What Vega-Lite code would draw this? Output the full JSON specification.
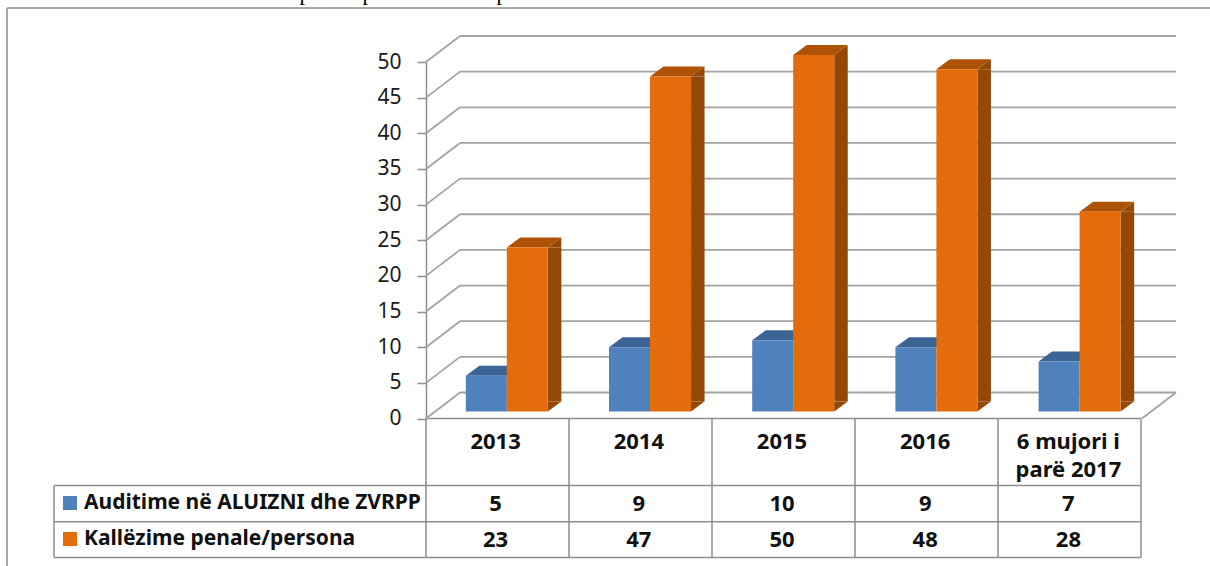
{
"$schema":"https://vega.github.io/schema/vega-lite/v6.json",
"width":1210,"height":566,"autosize":"none","padding":0,"background":"white",
"config":{"view":{"stroke":null},"font":"Noto Sans"},
"datasets":{
"bars":[
{"category":"2013","series":"Auditime në ALUIZNI dhe ZVRPP","value":5},
{"category":"2014","series":"Auditime në ALUIZNI dhe ZVRPP","value":9},
{"category":"2015","series":"Auditime në ALUIZNI dhe ZVRPP","value":10},
{"category":"2016","series":"Auditime në ALUIZNI dhe ZVRPP","value":9},
{"category":"6 mujori i parë 2017","series":"Auditime në ALUIZNI dhe ZVRPP","value":7},
{"category":"2013","series":"Kallëzime penale/persona","value":23},
{"category":"2014","series":"Kallëzime penale/persona","value":47},
{"category":"2015","series":"Kallëzime penale/persona","value":50},
{"category":"2016","series":"Kallëzime penale/persona","value":48},
{"category":"6 mujori i parë 2017","series":"Kallëzime penale/persona","value":28}
],
"ticks":[{"tick":0},{"tick":5},{"tick":10},{"tick":15},{"tick":20},{"tick":25},{"tick":30},{"tick":35},{"tick":40},{"tick":45},{"tick":50}],
"series":[{"series":"Auditime në ALUIZNI dhe ZVRPP"},{"series":"Kallëzime penale/persona"}],
"lines":[
{"c1":0,"c2":8,"r1":0,"r2":0},{"c1":0,"c2":0,"r1":0,"r2":5},
{"c1":2,"c2":7,"r1":1,"r2":1},{"c1":1,"c2":7,"r1":2,"r2":2},{"c1":1,"c2":7,"r1":3,"r2":3},{"c1":1,"c2":7,"r1":4,"r2":4},
{"c1":1,"c2":1,"r1":2,"r2":4},{"c1":2,"c2":2,"r1":1,"r2":4},{"c1":3,"c2":3,"r1":1,"r2":4},{"c1":4,"c2":4,"r1":1,"r2":4},{"c1":5,"c2":5,"r1":1,"r2":4},{"c1":6,"c2":6,"r1":1,"r2":4},{"c1":7,"c2":7,"r1":1,"r2":4}
],
"clipped":[{"glyph":"p","slot":1},{"glyph":"p","slot":2},{"glyph":"p","slot":3}]
},
"resolve":{"scale":{"x":"independent","y":"independent"}},
"layer":[
{"data":{"name":"lines"},
 "mark":{"type":"rule","color":"#8e8e8e","strokeWidth":1.5},
 "encoding":{
  "x":{"field":"c1","type":"quantitative","axis":null,"scale":{"domain":[0,1,2,3,4,5,6,7,8],"range":[7,54,426,569,712,855,998,1141,1210]}},
  "x2":{"field":"c2"},
  "y":{"field":"r1","type":"quantitative","axis":null,"scale":{"domain":[0,1,2,3,4,5],"range":[8,418.5,485.5,521.7,557.5,566]}},
  "y2":{"field":"r2"}
 }},
{"data":{"name":"clipped"},
 "mark":{"type":"text","font":"Liberation Serif","fontSize":22,"baseline":"alphabetic","color":"black"},
 "encoding":{
  "x":{"field":"slot","type":"quantitative","axis":null,"scale":{"domain":[1,2,3],"range":[305,368,502]}},
  "y":{"datum":"top","type":"nominal","axis":null,"scale":{"type":"point","domain":["top"],"range":[0,0],"padding":0}},
  "text":{"field":"glyph"}
 }},
{"data":{"name":"ticks"},
 "layer":[
  {"mark":{"type":"rule","color":"#a3a3a3","strokeWidth":1.8,"xOffset":34,"x2Offset":34,"yOffset":-26},
   "encoding":{"x":{"datum":0,"type":"quantitative","axis":null,"scale":{"domain":[0,1],"range":[426,1142]}},"x2":{"datum":1},
    "y":{"field":"tick","type":"quantitative","scale":{"domain":[0,50],"range":[418.5,62],"nice":false},
     "axis":{"offset":-426,"values":[0,5,10,15,20,25,30,35,40,45,50],"title":null,"grid":false,"tickSize":9,"tickColor":"#8e8e8e","tickWidth":1.5,"domainColor":"#8e8e8e","domainWidth":1.5,"labelFontSize":21,"labelColor":"#1a1a1a","labelPadding":16,"labelFont":"Noto Sans"}}}},
  {"mark":{"type":"rule","color":"#a3a3a3","strokeWidth":1.8,"x2Offset":34,"y2Offset":-26},
   "encoding":{"x":{"datum":0,"type":"quantitative"},"x2":{"datum":0},"y":{"field":"tick","type":"quantitative"},"y2":{"field":"tick"}}},
  {"transform":[{"filter":"datum.tick === 0"}],
   "mark":{"type":"rule","color":"#a3a3a3","strokeWidth":1.8,"x2Offset":34,"y2Offset":-26},
   "encoding":{"x":{"datum":1,"type":"quantitative"},"x2":{"datum":1},"y":{"field":"tick","type":"quantitative"},"y2":{"field":"tick"}}}
 ]},
{"data":{"name":"bars"},
 "encoding":{
  "x":{"field":"category","type":"nominal","sort":null,"scale":{"type":"band","domain":["2013","2014","2015","2016","6 mujori i parë 2017"],"range":[424,1140],"paddingInner":0,"paddingOuter":0},
   "axis":{"orient":"bottom","offset":-147.5,"title":null,"domain":false,"ticks":false,"grid":false,"labelAngle":0,"labelFontSize":22,"labelFontWeight":"bold","labelColor":"#111111","labelPadding":13,"labelLimit":0,"labelOverlap":false,"labelLineHeight":28,"labelBaseline":"top",
    "labelExpr":"datum.label === '6 mujori i parë 2017' ? ['6 mujori i','parë 2017'] : datum.label"}},
  "y":{"field":"value","type":"quantitative","axis":null,"scale":{"domain":[0,50],"range":[418.5,62],"nice":false}}
 },
 "layer":[
  {"transform":[{"filter":"datum.series === 'Auditime në ALUIZNI dhe ZVRPP'"}],
   "layer":[
    {"mark":{"type":"point","filled":true,"opacity":1,"strokeWidth":0,"size":400,"color":"#3c6595","xOffset":-9.3,"yOffset":-7,"shape":"M-2.05,0L2.05,0L3.4,-1L-0.7,-1Z"}},
    {"mark":{"type":"bar","color":"#4f81bd","width":41,"xOffset":-9.3,"yOffset":-7,"y2Offset":-7},"encoding":{"y2":{"datum":0}}}
   ]},
  {"transform":[{"filter":"datum.series === 'Kallëzime penale/persona'"}],
   "layer":[
    {"mark":{"type":"bar","color":"#944806","width":13.5,"xOffset":59,"yOffset":-7,"y2Offset":-17},"encoding":{"y2":{"datum":0}}},
    {"mark":{"type":"point","filled":true,"opacity":1,"strokeWidth":0,"size":400,"color":"#944806","xOffset":31.7,"yOffset":-7,"shape":"M2.05,0L3.4,0L3.4,-1Z"}},
    {"mark":{"type":"point","filled":true,"opacity":1,"strokeWidth":0,"size":400,"color":"#944806","xOffset":31.7,"yOffset":-7,"shape":"M2.05,-1L2.05,0L3.4,-1Z"},"encoding":{"y":{"datum":0,"type":"quantitative"}}},
    {"mark":{"type":"point","filled":true,"opacity":1,"strokeWidth":0,"size":400,"color":"#ae5305","xOffset":31.7,"yOffset":-7,"shape":"M-2.05,0L2.05,0L3.4,-1L-0.7,-1Z"}},
    {"mark":{"type":"bar","color":"#e46c0a","width":41,"xOffset":31.7,"yOffset":-7,"y2Offset":-7},"encoding":{"y2":{"datum":0}}}
   ]}
 ]},
{"data":{"name":"bars"},
 "mark":{"type":"text","fontSize":22,"fontWeight":"bold","color":"#111111","baseline":"middle"},
 "encoding":{
  "x":{"field":"category","type":"nominal","axis":null,"sort":null,"scale":{"type":"band","domain":["2013","2014","2015","2016","6 mujori i parë 2017"],"range":[424,1140],"paddingInner":0,"paddingOuter":0}},
  "y":{"field":"series","type":"nominal","axis":null,"scale":{"type":"point","domain":["Auditime në ALUIZNI dhe ZVRPP","Kallëzime penale/persona"],"range":[504,540],"padding":0}},
  "text":{"field":"value","type":"quantitative"}
 }},
{"data":{"name":"series"},
 "encoding":{
  "y":{"field":"series","type":"nominal","axis":null,"scale":{"type":"point","domain":["Auditime në ALUIZNI dhe ZVRPP","Kallëzime penale/persona"],"range":[503,539],"padding":0}}
 },
 "layer":[
  {"mark":{"type":"point","shape":"square","filled":true,"opacity":1,"strokeWidth":0,"size":196},
   "encoding":{
    "x":{"datum":"swatch","type":"nominal","axis":null,"scale":{"type":"point","domain":["swatch","label"],"range":[70,84],"padding":0}},
    "color":{"field":"series","type":"nominal","legend":null,"scale":{"domain":["Auditime në ALUIZNI dhe ZVRPP","Kallëzime penale/persona"],"range":["#4f81bd","#e46c0a"]}}
   }},
  {"mark":{"type":"text","align":"left","baseline":"middle","fontSize":21,"fontWeight":"bold","color":"#111111"},
   "encoding":{"x":{"datum":"label","type":"nominal"},"text":{"field":"series"}}}
 ]}
]
}
